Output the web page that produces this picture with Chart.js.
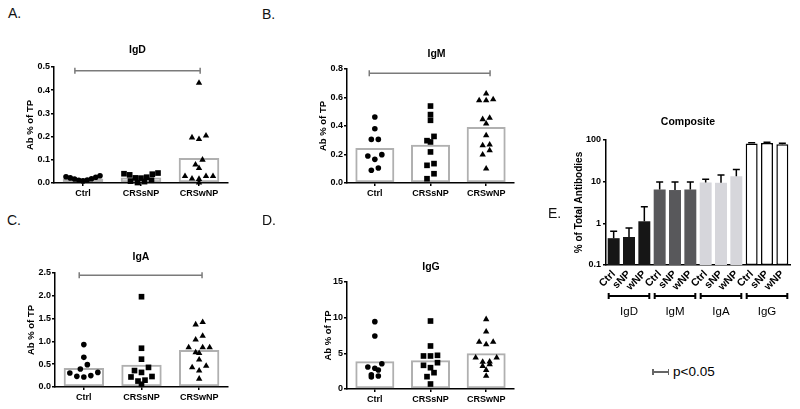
<!DOCTYPE html>
<html><head><meta charset="utf-8">
<script src="https://cdn.jsdelivr.net/npm/chart.js@4/dist/chart.umd.min.js"></script>
<style>
body{margin:0;background:#fff;width:800px;height:409px;overflow:hidden;position:relative;font-family:'Liberation Sans',Arial,sans-serif;color:#000;}
canvas{position:absolute;}
.pl{position:absolute;font-size:14px;line-height:14px;color:#111;}
.tt{position:absolute;font-weight:bold;font-size:10.5px;line-height:10.5px;transform:translateX(-50%);white-space:nowrap;}
.lg{position:absolute;background:#666;}
</style></head><body>
<canvas id="cA" width="250" height="170" style="left:0px;top:40px"></canvas>
<canvas id="cB" width="260" height="170" style="left:260px;top:40px"></canvas>
<canvas id="cC" width="250" height="170" style="left:0px;top:240px"></canvas>
<canvas id="cD" width="260" height="170" style="left:260px;top:240px"></canvas>
<canvas id="cE" width="270" height="230" style="left:530px;top:100px"></canvas>

<div class="pl" style="left:8px;top:6px">A.</div>
<div class="pl" style="left:262px;top:7px">B.</div>
<div class="pl" style="left:7px;top:213px">C.</div>
<div class="pl" style="left:262px;top:213px">D.</div>
<div class="pl" style="left:548px;top:206px">E.</div>

<div class="tt" style="left:137.5px;top:44px">IgD</div>
<div class="tt" style="left:436.5px;top:48px">IgM</div>
<div class="tt" style="left:141px;top:251px">IgA</div>
<div class="tt" style="left:431px;top:261px">IgG</div>
<div class="tt" style="left:688px;top:116px;font-size:10.5px">Composite</div>

<div class="lg" style="left:652px;top:371px;width:17px;height:1.5px"></div>
<div class="lg" style="left:652px;top:369px;width:1.5px;height:6px"></div>
<div class="lg" style="left:667.5px;top:369px;width:1.5px;height:6px"></div>
<div style="position:absolute;left:673px;top:365px;font-size:13.5px;line-height:13.5px;">p&lt;0.05</div>

<script>
// ---------------- DATA ----------------
const scatterCats = ['Ctrl', 'CRSsNP', 'CRSwNP'];

const igdCtrl = [0.031, 0.027, 0.022, 0.017, 0.013, 0.009, 0.012, 0.018, 0.025];
const igdSNP  = [0.043, 0.021, 0.008, 0.038, 0.002, 0.035, 0.006, 0.040, 0.022, 0.012, 0.025];
const igdWNP  = [0.431, 0.196, 0.189, 0.204, 0.100, 0.079, 0.064, 0.029, 0.017, 0.001, 0.019, 0.029, 0.029];
const igdMean = [0.019, 0.024, 0.108];
const igdSig  = [-0.14, 2.02, 0.484];

const igmCtrl = [0.463, 0.381, 0.306, 0.306, 0.190, 0.199, 0.166, 0.089, 0.105];
const igmSNP  = [0.540, 0.480, 0.440, 0.297, 0.288, 0.327, 0.218, 0.136, 0.124, 0.065, 0.030];
const igmWNP  = [0.627, 0.580, 0.580, 0.587, 0.456, 0.447, 0.416, 0.334, 0.264, 0.269, 0.229, 0.199, 0.100];
const igmMean = [0.246, 0.269, 0.393];
const igmSig  = [-0.10, 2.07, 0.77];

const igaCtrl = [0.93, 0.65, 0.49, 0.395, 0.32, 0.25, 0.22, 0.234, 0.307];
const igaSNP  = [1.98, 0.85, 0.61, 0.43, 0.36, 0.32, 0.22, 0.23, 0.15, 0.13, 0.06];
const igaWNP  = [1.42, 1.37, 1.12, 1.04, 0.87, 0.87, 0.87, 0.76, 0.74, 0.60, 0.46, 0.43, 0.36, 0.18];
const igaMean = [0.415, 0.49, 0.81];
const igaSig  = [-0.08, 2.05, 2.45];

const iggCtrl = [9.44, 7.43, 3.55, 2.90, 2.66, 3.08, 2.00, 1.68, 1.82];
const iggSNP  = [9.53, 6.03, 4.63, 4.63, 4.72, 3.69, 3.32, 2.99, 2.29, 1.73, 0.70];
const iggWNP  = [9.77, 8.04, 6.59, 6.26, 6.59, 4.39, 3.83, 3.46, 4.39, 3.79, 3.22, 2.66, 1.82];
const iggMean = [3.88, 4.02, 5.0];

const compLabels = ['Ctrl','sNP','wNP','Ctrl','sNP','wNP','Ctrl','sNP','wNP','Ctrl','sNP','wNP'];
const compGroups = ['IgD', 'IgM', 'IgA', 'IgG'];
const compMean   = [0.44, 0.47, 1.12, 6.5, 6.3, 6.5, 9.6, 9.4, 13.5, 82, 85, 79];
const compErrTop = [0.65, 0.77, 2.5, 9.8, 9.8, 9.8, 11.4, 14.5, 19.5, 86, 88, 83];

// ---------------- STYLE / HELPERS ----------------
Chart.defaults.font.family = "'Liberation Sans', Arial, sans-serif";
Chart.defaults.color = '#000';

const shapes = ['circle', 'rect', 'triangle'];
const radii = [2.8, 4.0, 3.7];
const ROW_H = 5.5, MAX_SP = 7, MAX_W = 34;

function layoutRows(values, chart, catIndex) {
  const ys = chart.scales.y, xs = chart.scales.x2;
  const pxPerUnit = xs.getPixelForValue(1) - xs.getPixelForValue(0);
  const sorted = values.map((v, i) => ({v, i, py: ys.getPixelForValue(v)})).sort((a, b) => b.v - a.v);
  const rows = [];
  let cur = null;
  for (const p of sorted) {
    if (cur && Math.abs(p.py - cur.start) < ROW_H) cur.items.push(p);
    else { cur = {start: p.py, items: [p]}; rows.push(cur); }
  }
  const out = new Array(values.length);
  for (const r of rows) {
    const n = r.items.length;
    const sp = n > 1 ? Math.min(MAX_SP, MAX_W / (n - 1)) : 0;
    const slots = [];
    for (let k = 0; k < n; k++) slots.push((k - (n - 1) / 2) * sp);
    slots.sort((a, b) => Math.abs(a) - Math.abs(b) || a - b);
    const asc = r.items.slice().sort((a, b) => a.v - b.v);
    asc.forEach((p, k) => { out[p.i] = {x: catIndex + slots[k] / pxPerUnit, y: p.v}; });
  }
  return out;
}

function makeScatter(id, cfg) {
  const el = document.getElementById(id);
  const W = el.width, H = el.height, ca = cfg.area, xh = 20;
  const datasets = [
    {type: 'bar', data: cfg.mean, backgroundColor: 'rgba(255,255,255,0)', borderColor: '#b0b0b0',
     borderWidth: 2, borderSkipped: false, barPercentage: 0.7, categoryPercentage: 1, grouped: false, order: 3}
  ];
  cfg.groups.forEach((vals, k) => datasets.push({
    type: 'scatter', xAxisID: 'x2', data: vals.map(v => ({x: k, y: v})),
    pointStyle: shapes[k], pointRadius: radii[k], pointHoverRadius: radii[k],
    pointBackgroundColor: '#000', pointBorderColor: '#000', pointBorderWidth: 0, clip: false, order: 1
  }));
  if (cfg.sig) datasets.push({
    type: 'line', xAxisID: 'x2', data: [{x: cfg.sig[0], y: cfg.sig[2]}, {x: cfg.sig[1], y: cfg.sig[2]}],
    borderColor: '#7a7a7a', borderWidth: 1.5, pointStyle: 'line', pointRotation: 90, pointRadius: 3,
    pointBorderColor: '#7a7a7a', pointBorderWidth: 1.5, clip: false, order: 2
  });
  const chart = new Chart(el, {
    type: 'bar',
    data: {labels: scatterCats, datasets},
    options: {
      responsive: false, animation: false, devicePixelRatio: 1,
      layout: {padding: {left: cfg.pl, right: W - ca.right, top: ca.top, bottom: H - ca.bottom - xh}},
      plugins: {legend: {display: false}, tooltip: {enabled: false}},
      scales: {
        x: {type: 'category', offset: true,
            grid: {display: true, drawOnChartArea: false, offset: false, tickLength: 3, color: '#000', lineWidth: 1.5},
            border: {display: true, color: '#000', width: 1.5},
            ticks: {color: '#000', font: {weight: 'bold', size: 9}, padding: 2, maxRotation: 0, autoSkip: false},
            afterFit: s => { s.height = xh; }},
        x2: {type: 'linear', display: false, offset: false, bounds: 'data', min: -0.5, max: 2.5,
             grid: {offset: false}},
        y: {type: 'linear', min: 0, max: cfg.max,
            ticks: {stepSize: cfg.step, color: '#000', font: {weight: 'bold', size: 9}, padding: 1, callback: cfg.fmt},
            grid: {drawOnChartArea: false, tickLength: 3, color: '#000', lineWidth: 1.5},
            border: {color: '#000', width: 1.5},
            title: {display: true, text: 'Ab % of TP', color: '#000', font: {weight: 'bold', size: 9.5}, padding: 0},
            afterFit: s => { s.width = ca.left - cfg.pl; }}
      }
    }
  });
  cfg.groups.forEach((vals, k) => { chart.data.datasets[1 + k].data = layoutRows(vals, chart, k); });
  chart.update('none');
  return chart;
}

const f1 = v => Number(v).toFixed(1);
const f0 = v => String(Math.round(v));

makeScatter('cA', {area: {left: 54, right: 228, top: 27, bottom: 143}, pl: 24.3, max: 0.5, step: 0.1, fmt: f1,
  groups: [igdCtrl, igdSNP, igdWNP], mean: igdMean, sig: igdSig});
makeScatter('cB', {area: {left: 87, right: 254, top: 29, bottom: 143}, pl: 57.3, max: 0.8, step: 0.2, fmt: f1,
  groups: [igmCtrl, igmSNP, igmWNP], mean: igmMean, sig: igmSig});
makeScatter('cC', {area: {left: 55, right: 228, top: 33, bottom: 147}, pl: 25.3, max: 2.5, step: 0.5, fmt: f1,
  groups: [igaCtrl, igaSNP, igaWNP], mean: igaMean, sig: igaSig});
makeScatter('cD', {area: {left: 87, right: 254, top: 42, bottom: 149}, pl: 62.3, max: 15, step: 5, fmt: f0,
  groups: [iggCtrl, iggSNP, iggWNP], mean: iggMean, sig: null});

// ---------------- COMPOSITE ----------------
const groupFill = ['#161616', '#58585b', '#d6d6db', '#ffffff'];
const compPlugin = {
  id: 'compExtras',
  afterDatasetsDraw(chart) {
    const ctx = chart.ctx, meta = chart.getDatasetMeta(0), ys = chart.scales.y, ca = chart.chartArea;
    ctx.save();
    ctx.strokeStyle = '#000'; ctx.lineWidth = 1.5;
    meta.data.forEach((bar, i) => {
      const top = ys.getPixelForValue(compErrTop[i]);
      ctx.beginPath();
      ctx.moveTo(bar.x, bar.y); ctx.lineTo(bar.x, top);
      ctx.moveTo(bar.x - 3.5, top); ctx.lineTo(bar.x + 3.5, top);
      ctx.stroke();
    });
    const by = ca.bottom + 31;
    ctx.lineWidth = 2;
    ctx.fillStyle = '#000';
    ctx.font = "11.5px 'Liberation Sans', Arial, sans-serif";
    ctx.textAlign = 'center'; ctx.textBaseline = 'middle';
    compGroups.forEach((g, gi) => {
      const b0 = meta.data[gi * 3], b2 = meta.data[gi * 3 + 2];
      const l = b0.x - b0.width / 2 + 1, r = b2.x + b2.width / 2 - 1;
      ctx.beginPath();
      ctx.moveTo(l, by); ctx.lineTo(r, by);
      ctx.moveTo(l, by - 3); ctx.lineTo(l, by + 3);
      ctx.moveTo(r, by - 3); ctx.lineTo(r, by + 3);
      ctx.stroke();
      ctx.fillText(g, (l + r) / 2, by + 16);
    });
    ctx.restore();
  }
};

new Chart(document.getElementById('cE'), {
  type: 'bar',
  data: {
    labels: compLabels,
    datasets: [{
      data: compMean,
      backgroundColor: compLabels.map((_, i) => groupFill[Math.floor(i / 3)]),
      borderColor: compLabels.map((_, i) => Math.floor(i / 3) === 3 ? '#000' : groupFill[Math.floor(i / 3)]),
      borderWidth: compLabels.map((_, i) => Math.floor(i / 3) === 3 ? 1.5 : 0),
      borderSkipped: false, barPercentage: 0.78, categoryPercentage: 1
    }]
  },
  options: {
    responsive: false, animation: false, devicePixelRatio: 1,
    layout: {padding: {left: 43, right: 10, top: 40, bottom: 35}},
    plugins: {legend: {display: false}, tooltip: {enabled: false}},
    scales: {
      x: {grid: {display: false, drawTicks: false}, border: {display: true, color: '#000', width: 1.5},
          ticks: {color: '#000', font: {weight: 'bold', size: 10.5}, minRotation: 45, maxRotation: 45, padding: 3, autoSkip: false},
          afterFit: s => { s.height = 30; }},
      y: {type: 'logarithmic', min: 0.1, max: 100,
          afterBuildTicks: s => { s.ticks = [0.1, 1, 10, 100].map(v => ({value: v})); },
          ticks: {color: '#000', font: {weight: 'bold', size: 9}, padding: 2, callback: v => String(v)},
          grid: {drawOnChartArea: false, tickLength: 3, color: '#000', lineWidth: 1.5},
          border: {color: '#000', width: 1.5},
          title: {display: true, text: '% of Total Antibodies', color: '#000', font: {weight: 'bold', size: 10}, padding: 0},
          afterFit: s => { s.width = 33; }}
    }
  },
  plugins: [compPlugin]
});
</script>
</body></html>
